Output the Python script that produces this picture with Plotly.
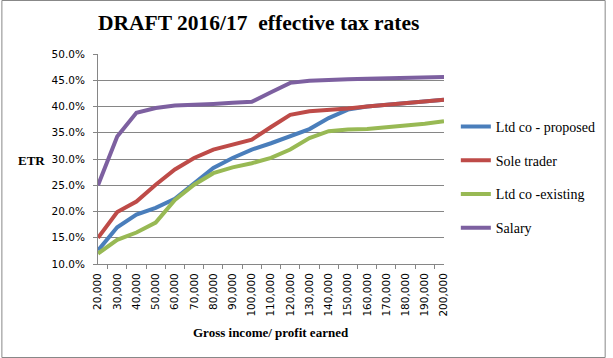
import plotly.graph_objects as go

categories = ["20,000", "30,000", "40,000", "50,000", "60,000", "70,000", "80,000", "90,000",
              "100,000", "110,000", "120,000", "130,000", "140,000", "150,000", "160,000",
              "170,000", "180,000", "190,000", "200,000"]

ltd_proposed = [12.6, 17.0, 19.4, 20.7, 22.4, 25.4, 28.3, 30.2, 31.8, 33.0, 34.3, 35.7, 37.8,
                39.4, 40.0, 40.3, 40.7, 41.0, 41.3]
sole_trader = [15.0, 19.9, 21.9, 25.1, 28.0, 30.2, 31.8, 32.7, 33.7, 36.1, 38.4, 39.1, 39.3,
               39.6, 40.0, 40.3, 40.7, 41.0, 41.3]
ltd_existing = [12.0, 14.6, 16.0, 17.9, 22.2, 25.1, 27.3, 28.4, 29.2, 30.2, 31.8, 34.0, 35.3,
                35.6, 35.7, 36.0, 36.3, 36.7, 37.2]
salary = [25.0, 34.3, 38.8, 39.7, 40.2, 40.3, 40.5, 40.7, 40.9, 42.7, 44.5, 44.9, 45.1, 45.2,
          45.3, 45.4, 45.4, 45.6, 45.6]

series = [
    ("Ltd co - proposed", ltd_proposed, "#4A7EBB"),
    ("Sole trader", sole_trader, "#BE4B48"),
    ("Ltd co -existing", ltd_existing, "#98B954"),
    ("Salary", salary, "#7D60A0"),
]

W, H = 613, 358
L, R, T, B = 98, 449, 54, 264
pw, ph = R - L, B - T

def px(x):
    return (x - L) / pw

def py(y):
    return (B - y) / ph

fig = go.Figure()
for name, vals, col in series:
    fig.add_trace(go.Scatter(x=categories, y=vals, name=name, mode="lines",
                             line=dict(color=col, width=4), legendgroup=name))

serif = "Liberation Serif, Times New Roman, serif"
sans = "DejaVu Sans, Verdana, sans-serif"

fig.update_layout(
    width=W, height=H,
    margin=dict(l=L, r=W - R, t=T, b=H - B),
    paper_bgcolor="white", plot_bgcolor="white",
    showlegend=True,
    legend=dict(x=px(461), y=py(111), xanchor="left", yanchor="top",
                font=dict(family=serif, size=14, color="black"),
                tracegroupgap=12.5, bgcolor="rgba(0,0,0,0)", itemwidth=30),
    xaxis=dict(type="category", tickangle=-90, ticks="outside", ticklen=4,
               tickson="boundaries", tickcolor="#868686", showline=True,
               linecolor="#868686", linewidth=1, showgrid=False, ticklabelstandoff=4,
               tickfont=dict(family=sans, size=10.5, color="black"), zeroline=False),
    yaxis=dict(range=[10, 50], dtick=5, tick0=10, tickformat=".1f", ticksuffix="%",
               ticks="outside", ticklen=4, tickcolor="#868686", showline=True,
               linecolor="#868686", linewidth=1, showgrid=True, gridcolor="#868686",
               gridwidth=1, ticklabelstandoff=6,
               tickfont=dict(family=sans, size=10.5, color="black"), zeroline=False),
)

fig.add_annotation(text="<b>DRAFT 2016/17  effective tax rates</b>", xref="paper", yref="paper",
                   x=px(261), y=py(23), xanchor="center", yanchor="middle", showarrow=False,
                   font=dict(family=serif, size=21.5, color="black"))
fig.add_annotation(text="<b>ETR</b>", xref="paper", yref="paper",
                   x=px(31), y=py(160), xanchor="center", yanchor="middle", showarrow=False,
                   font=dict(family=serif, size=13, color="black"))
fig.add_annotation(text="<b>Gross income/ profit earned</b>", xref="paper", yref="paper",
                   x=px(273), y=py(332), xanchor="center", yanchor="middle", showarrow=False,
                   font=dict(family=serif, size=13, color="black"))

fig.add_shape(type="rect", xref="paper", yref="paper",
              x0=px(0.5), x1=px(612.5), y0=py(0.5), y1=py(357.5),
              line=dict(color="#888888", width=1), fillcolor="rgba(0,0,0,0)", layer="below")

fig.write_html("out.html", config={"displayModeBar": False},
               post_script="document.body.style.margin='0';")
